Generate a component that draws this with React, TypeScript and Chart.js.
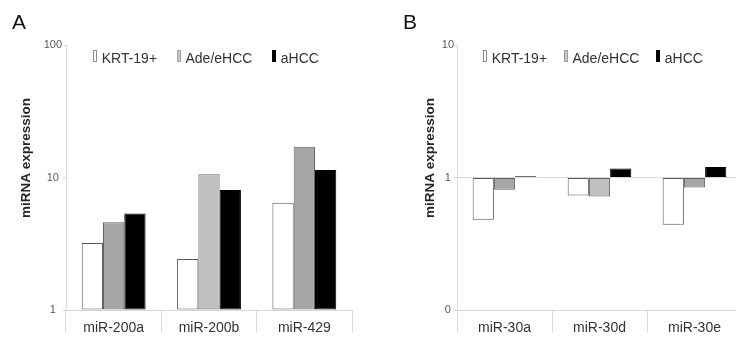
import React, { useEffect, useRef } from 'react';
import { Chart, registerables } from 'chart.js';

Chart.register(...registerables);

const FONT = '"Liberation Sans", Arial, sans-serif';
Chart.defaults.font.family = FONT;

// ---------- data ----------
const seriesNames = ['KRT-19+', 'Ade/eHCC', 'aHCC'];

const categoriesA = ['miR-200a', 'miR-200b', 'miR-429'];
const krtA = [3.2, 2.43, 6.45];
const adeA = [4.6, 10.6, 17.1];
const ahccA = [5.35, 8.05, 11.4];
const adeColorsA = ['#a6a6a6', '#c0c0c0', '#a6a6a6'];
const yTicksA = [1, 10, 100];
const yTickLabelsA = ['1', '10', '100'];

const categoriesB = ['miR-30a', 'miR-30d', 'miR-30e'];
const krtB = [0.48, 0.73, 0.44];
const adeB = [0.81, 0.72, 0.84];
const ahccB = [1.02, 1.17, 1.2];
const adeColorsB = ['#a6a6a6', '#c0c0c0', '#a6a6a6'];
const yTicksB = [0.1, 1, 10];
const yTickLabelsB = ['0', '1', '10'];

const yTitle = 'miRNA expression';

// ---------- legend + axis-title plugin ----------
const legendFills = ['#ffffff', '#c8c8c8', '#000000'];
const legendStrokes = ['#8c8c8c', '#a0a0a0', '#000000'];

const customLegend = {
  id: 'customLegend',
  afterDraw(chart: any, _args: any, opts: any) {
    const { ctx, chartArea } = chart;
    ctx.save();
    ctx.font = `14px ${FONT}`;
    ctx.textBaseline = 'alphabetic';
    ctx.textAlign = 'left';
    let x = chartArea.left + opts.offsetX;
    const top = chartArea.top;
    chart.data.datasets.forEach((ds: any, i: number) => {
      ctx.fillStyle = legendFills[i];
      ctx.strokeStyle = legendStrokes[i];
      ctx.lineWidth = 1;
      ctx.fillRect(Math.round(x) + 0.5, top + 5.5, 3, 11);
      ctx.strokeRect(Math.round(x) + 0.5, top + 5.5, 3, 11);
      ctx.fillStyle = '#333333';
      const tx = x + 8.4;
      ctx.fillText(ds.label, tx, top + 18.3);
      x = tx + ctx.measureText(ds.label).width + opts.gap;
    });
    // rotated y-axis title
    ctx.font = `bold 13.5px ${FONT}`;
    ctx.fillStyle = '#262626';
    ctx.textAlign = 'center';
    ctx.textBaseline = 'middle';
    ctx.translate(opts.titleX, opts.titleY);
    ctx.rotate(-Math.PI / 2);
    ctx.fillText(yTitle, 0, 0);
    ctx.restore();
  },
};

function makeConfig(p: any): any {
  return {
    type: 'bar',
    data: {
      labels: p.categories,
      datasets: [
        {
          label: seriesNames[0], data: p.krt, backgroundColor: '#ffffff', borderColor: '#595959',
          borderWidth: 1, borderSkipped: false, base: 1,
        },
        {
          label: seriesNames[1], data: p.ade, backgroundColor: p.adeColors, borderColor: '#606060',
          borderWidth: 1, borderSkipped: false, base: 1,
        },
        {
          label: seriesNames[2], data: p.ahcc, backgroundColor: '#000000', borderColor: '#000000',
          borderWidth: 1, borderSkipped: false, base: 1,
        },
      ],
    },
    options: {
      responsive: false,
      animation: false,
      events: [],
      layout: { padding: { top: 45, right: p.rightPad, left: 0, bottom: 0 } },
      datasets: { bar: { categoryPercentage: 0.67, barPercentage: 1 } },
      plugins: {
        legend: { display: false },
        tooltip: { enabled: false },
        customLegend: { offsetX: p.legendOffset, gap: p.legendGap, titleX: p.titleX, titleY: 158 },
      },
      scales: {
        x: {
          type: 'category',
          offset: true,
          grid: {
            display: true, drawOnChartArea: false, drawTicks: true, tickLength: 23,
            color: '#d9d9d9', tickColor: '#d9d9d9', offset: true,
          },
          border: { display: true, color: '#d9d9d9', width: 1 },
          ticks: { font: { size: 14 }, color: '#333333', padding: -13, maxRotation: 0, autoSkip: false },
          afterFit: (s: any) => { s.height = 30; },
        },
        y: {
          type: 'logarithmic',
          min: p.min,
          max: p.max,
          afterBuildTicks: (s: any) => { s.ticks = p.yTicks.map((v: number) => ({ value: v })); },
          ticks: {
            font: { size: 11 }, color: '#595959', padding: p.labelPad, crossAlign: 'center',
            callback: (_v: any, i: number) => p.yTickLabels[i],
          },
          grid: {
            display: true,
            drawOnChartArea: p.lineAtOne,
            drawTicks: true,
            tickLength: 3,
            tickColor: '#d9d9d9',
            color: (c: any) => (c.tick && c.tick.value === 1 ? '#d9d9d9' : 'rgba(0,0,0,0)'),
          },
          border: { display: true, color: '#d9d9d9', width: 1 },
          afterFit: (s: any) => { s.width = p.axisWidth; },
        },
      },
    },
    plugins: [customLegend],
  };
}

const configA = () => makeConfig({
  categories: categoriesA, krt: krtA, ade: adeA, ahcc: ahccA, adeColors: adeColorsA,
  yTicks: yTicksA, yTickLabels: yTickLabelsA, min: 1, max: 100,
  rightPad: 18, axisWidth: 66, labelPad: 1, lineAtOne: false,
  legendOffset: 27.3, legendGap: 20, titleX: 26,
});

const configB = () => makeConfig({
  categories: categoriesB, krt: krtB, ade: adeB, ahcc: ahccB, adeColors: adeColorsB,
  yTicks: yTicksB, yTickLabels: yTickLabelsB, min: 0.1, max: 10,
  rightPad: 0, axisWidth: 87, labelPad: 0, lineAtOne: true,
  legendOffset: 26.3, legendGap: 17, titleX: 60,
});

function Panel({ makeCfg, left, width }: { makeCfg: () => any; left: number; width: number }) {
  const ref = useRef<HTMLCanvasElement>(null);
  useEffect(() => {
    const chart = new Chart(ref.current as HTMLCanvasElement, makeCfg());
    return () => chart.destroy();
  }, []);
  return (
    <canvas
      ref={ref}
      width={width}
      height={340}
      style={{ position: 'absolute', left, top: 0, width, height: 340, display: 'block' }}
    />
  );
}

const letterStyle: React.CSSProperties = {
  position: 'absolute', top: 10.5, fontFamily: FONT, fontSize: 21, lineHeight: '21px', color: '#111',
};

export default function App() {
  return (
    <div style={{ position: 'fixed', left: 0, top: 0, width: 736, height: 340, overflow: 'hidden', background: '#fff' }}>
      <Panel makeCfg={configA} left={0} width={370} />
      <Panel makeCfg={configB} left={370} width={372} />
      <div style={{ ...letterStyle, left: 12 }}>A</div>
      <div style={{ ...letterStyle, left: 403 }}>B</div>
    </div>
  );
}
